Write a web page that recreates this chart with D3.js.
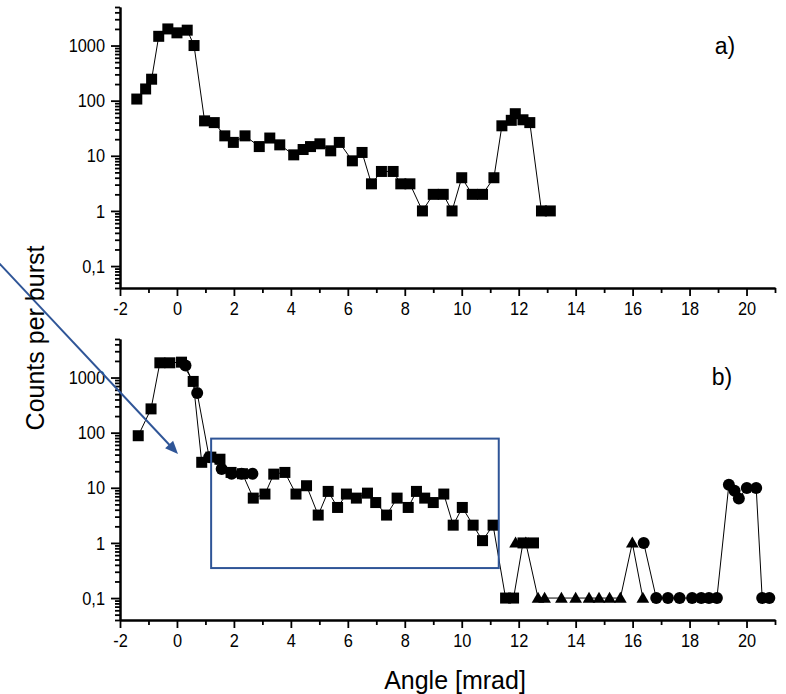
<!DOCTYPE html>
<html><head><meta charset="utf-8">
<script src="https://cdnjs.cloudflare.com/ajax/libs/d3/7.8.5/d3.min.js"></script>
<style>
body{margin:0;background:#fff;}
text{font-family:"Liberation Sans",Arial,sans-serif;fill:#000;}
</style>
</head><body>
<svg id="chart" width="786" height="694"></svg>
<script>
// ---------- data ----------
const xMajorTicks = [-2,0,2,4,6,8,10,12,14,16,18,20];
const xMinorTicks = [-1,1,3,5,7,9,11,13,15,17,19,21];
const yMajorTicks = [0.1,1,10,100,1000];
const yTickLabels = ["0,1","1","10","100","1000"];
const panelLabels = ["a)","b)"];
const xTitle = "Angle [mrad]";
const yTitle = "Counts per burst";

// panel a) – squares
const aX = [-1.41,-1.1,-0.89,-0.64,-0.32,0.0,0.36,0.6,0.97,1.31,1.68,1.98,2.39,2.89,3.26,3.61,4.1,4.43,4.69,5.02,5.4,5.7,6.16,6.5,6.83,7.18,7.59,7.86,8.18,8.62,9.0,9.35,9.66,10.0,10.37,10.73,11.13,11.41,11.74,11.88,12.15,12.39,12.8,13.11];
const aY = [107,163,245,1470,2000,1700,1900,1000,43,40,23,17.5,23,14.7,21,15.8,10.4,13,14.7,16.5,12.3,17.5,8.1,11.5,3.1,5.2,5.2,3.1,3.1,1,2,2,1,4,2,2,4,35,44,58,45,40,1,1];

// panel b) – squares
const bSqX = [-1.36,-0.91,-0.6,-0.25,0.16,0.57,0.87,1.19,1.51,1.9,2.3,2.68,3.09,3.4,3.79,4.18,4.55,4.96,5.31,5.64,5.95,6.3,6.69,6.98,7.36,7.73,8.12,8.41,8.7,9.0,9.37,9.7,10.02,10.4,10.73,11.1,11.54,11.82,12.15,12.52];
const bSqY = [88,270,1850,1850,1900,850,29,36,33,19,18,6.5,7.7,17.7,19,7.7,10.9,3.2,8.6,4.4,7.7,6.5,8,5.4,3.2,6.5,4.4,8.6,6.5,5.4,7.7,2.1,4.4,2.1,1.1,2.1,0.1,0.1,1,1];
// panel b) – circles (first run)
const bCircAX = [0.3,0.71,1.13,1.57,1.92,2.27,2.65];
const bCircAY = [1650,525,36,22,18,18,18];
// panel b) – triangles
const bTriX = [11.89,12.25,12.68,12.91,13.5,14.0,14.47,14.82,15.19,15.57,15.99,16.36];
const bTriY = [1,1,0.1,0.1,0.1,0.1,0.1,0.1,0.1,0.1,1,0.1];
// panel b) – circles (second run)
const bCircBX = [16.39,16.83,17.24,17.65,18.09,18.41,18.68,18.96,19.38,19.58,19.73,20.01,20.34,20.55,20.8];
const bCircBY = [1,0.1,0.1,0.1,0.1,0.1,0.1,0.1,11.4,8.8,6.4,9.9,9.9,0.1,0.1];

// highlighted region in panel b) (data coordinates)
const boxX = [1.2,11.3];
const boxY = [0.35,78];

// ---------- drawing ----------
const svg = d3.select("#chart");
const blue = "#2f5597";
const x = d3.scaleLinear().domain([-2,21]).range([120,775]);
const yDomain = [0.04,5000];
const panels = [
  {y: d3.scaleLog().domain(yDomain).range([288,7]), label: panelLabels[0], lx: 725, ly: 46},
  {y: d3.scaleLog().domain(yDomain).range([620,339]), label: panelLabels[1], lx: 722, ly: 377}
];

const yMinor = [];
for (let e=-2;e<=3;e++) for (let k=2;k<=9;k++){const v=k*Math.pow(10,e); if(v>=yDomain[0]-1e-9 && v<=yDomain[1]+1e-9) yMinor.push(v);}

function styleAxis(g){
  g.select(".domain").attr("stroke","#000").attr("stroke-width",2);
  g.selectAll(".tick line").attr("stroke","#000").attr("stroke-width",1.8);
  g.selectAll("text").attr("font-size",19).attr("font-family","Liberation Sans, Arial, sans-serif");
}

panels.forEach(p=>{
  const y0 = p.y.range()[0];
  svg.append("g").attr("transform",`translate(120,0)`)
    .call(d3.axisLeft(p.y).tickValues(yMinor).tickSize(5).tickSizeOuter(0).tickFormat(""))
    .call(styleAxis);
  svg.append("g").attr("transform",`translate(120,0)`)
    .call(d3.axisLeft(p.y).tickValues(yMajorTicks).tickSize(9).tickPadding(6).tickSizeOuter(0)
      .tickFormat((d,i)=>yTickLabels[i]))
    .call(styleAxis);
  svg.append("g").attr("transform",`translate(0,${y0})`)
    .call(d3.axisBottom(x).tickValues(xMinorTicks).tickSize(5).tickSizeOuter(0).tickFormat(""))
    .call(styleAxis);
  svg.append("g").attr("transform",`translate(0,${y0})`)
    .call(d3.axisBottom(x).tickValues(xMajorTicks).tickSize(8).tickPadding(6).tickSizeOuter(0)
      .tickFormat(d=>d))
    .call(styleAxis);
  svg.append("text").attr("x",p.lx).attr("y",p.ly).attr("text-anchor","middle")
    .attr("dominant-baseline","central").attr("font-size",23).text(p.label);
});

// condensed tick labels (the reference glyphs are narrow)
svg.selectAll(".tick text").each(function(){
  const L = this.getComputedTextLength();
  if (L>0) d3.select(this).attr("textLength",L*0.86).attr("lengthAdjust","spacingAndGlyphs");
});

const line = (ys)=>d3.line().x(d=>x(d[0])).y(d=>ys(d[1]));
function drawSeries(p, xs, vs, shape){
  const pts = xs.map((v,i)=>[v,vs[i]]);
  svg.append("path").datum(pts).attr("d",line(p.y)).attr("fill","none").attr("stroke","#000").attr("stroke-width",1);
  const g = svg.append("g");
  if(shape==="square"){
    g.selectAll("rect").data(pts).join("rect")
      .attr("x",d=>x(d[0])-5.5).attr("y",d=>p.y(d[1])-5.5).attr("width",11).attr("height",11).attr("fill","#000");
  } else if(shape==="circle"){
    g.selectAll("circle").data(pts).join("circle")
      .attr("cx",d=>x(d[0])).attr("cy",d=>p.y(d[1])).attr("r",6).attr("fill","#000");
  } else {
    const sym = d3.symbol().type(d3.symbolTriangle).size(70);
    g.selectAll("path").data(pts).join("path")
      .attr("transform",d=>`translate(${x(d[0])},${p.y(d[1])+1})`).attr("d",sym).attr("fill","#000");
  }
}
drawSeries(panels[0], aX, aY, "square");
drawSeries(panels[1], bSqX, bSqY, "square");
drawSeries(panels[1], bCircAX, bCircAY, "circle");
drawSeries(panels[1], bTriX, bTriY, "triangle");
drawSeries(panels[1], bCircBX, bCircBY, "circle");

// highlight box
const pb = panels[1];
svg.append("rect").attr("x",x(boxX[0])).attr("y",pb.y(boxY[1]))
  .attr("width",x(boxX[1])-x(boxX[0])).attr("height",pb.y(boxY[0])-pb.y(boxY[1]))
  .attr("fill","none").attr("stroke",blue).attr("stroke-width",2);

// arrow
const a0=[-2,262], a1=[178,454];
const ang=Math.atan2(a1[1]-a0[1],a1[0]-a0[0]);
const hl=13, hw=5.5;
const bx=a1[0]-hl*Math.cos(ang), by=a1[1]-hl*Math.sin(ang);
svg.append("line").attr("x1",a0[0]).attr("y1",a0[1]).attr("x2",bx+2*Math.cos(ang)).attr("y2",by+2*Math.sin(ang))
  .attr("stroke",blue).attr("stroke-width",2);
svg.append("path").attr("d",`M${a1[0]},${a1[1]}L${bx-hw*Math.sin(ang)},${by+hw*Math.cos(ang)}L${bx+hw*Math.sin(ang)},${by-hw*Math.cos(ang)}Z`)
  .attr("fill",blue);

// axis titles
svg.append("text").attr("x",455).attr("y",680).attr("text-anchor","middle").attr("dominant-baseline","central")
  .attr("font-size",25).text(xTitle);
svg.append("text").attr("transform","translate(35,338) rotate(-90)").attr("text-anchor","middle")
  .attr("dominant-baseline","central").attr("font-size",25).text(yTitle);
</script>
</body></html>
